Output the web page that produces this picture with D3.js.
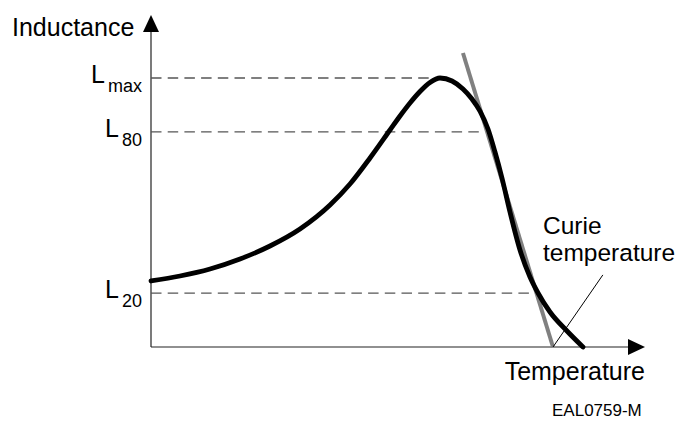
<!DOCTYPE html>
<html lang="en">
<head>
<meta charset="UTF-8">
<title>Inductance vs Temperature</title>
<script src="https://d3js.org/d3.v7.min.js"></script>
<style>
  body { margin: 0; background: #fff; }
  svg { display: block; font-family: "Liberation Sans", Arial, sans-serif; }
</style>
</head>
<body>
<svg id="chart" width="679" height="421"></svg>
<script>
// temperature (Curie point = 100) and inductance (% of Lmax)
var temps = [0, 7.21, 14.68, 22.14, 29.60, 37.06, 44.53, 49.50, 54.48, 59.45, 61.94, 64.43,
             66.92, 69.40, 71.89, 74.88, 77.61, 79.85, 81.84, 83.83, 85.57, 87.31, 89.30,
             91.79, 94.28, 96.27, 99.25, 103.48, 107.46];
var inductance = [24.54, 26.39, 28.99, 32.71, 37.55, 43.87, 52.79, 60.59, 70.26, 80.67, 85.87, 90.71,
                  94.98, 98.33, 100, 98.88, 95.91, 92.19, 87.73, 81.04, 72.49, 62.83, 50.19,
                  36.06, 26.02, 20.07, 13.01, 5.95, 0];

// reference levels
var levelNames = ["max", "80", "20"];
var levelValues = [100, 80, 20];
var levelEnds = [70.6, 83.1, 95.0];

// tangent line (gray) and Curie point
var tangentTemps = [77.6, 100];
var tangentValues = [109.3, 0];
var curieTemp = 100;
var curieLabelPoint = [112.4, 26.8];

var svg = d3.select("#chart");

var x = d3.scaleLinear().domain([0, 100]).range([151, 553]);
var y = d3.scaleLinear().domain([0, 100]).range([347, 78]);

var xMax = x.invert(645), yMax = y.invert(15);

// axes
svg.append("line")
  .attr("x1", x(0)).attr("y1", y(0))
  .attr("x2", x(0)).attr("y2", y(yMax) + 14)
  .attr("stroke", "#222").attr("stroke-width", 1.2);
svg.append("line")
  .attr("x1", x(0)).attr("y1", y(0))
  .attr("x2", x(xMax) - 14).attr("y2", y(0))
  .attr("stroke", "#222").attr("stroke-width", 1.2);

// arrow heads
var ax = x(0), ay = y(yMax);
svg.append("path")
  .attr("d", `M${ax},${ay}L${ax + 8},${ay + 17}L${ax - 8},${ay + 17}Z`)
  .attr("fill", "#000");
var bx = x(xMax), by = y(0);
svg.append("path")
  .attr("d", `M${bx},${by}L${bx - 17},${by - 8}L${bx - 17},${by + 8}Z`)
  .attr("fill", "#000");

// dashed levels
svg.selectAll("line.level")
  .data(levelValues)
  .enter()
  .append("line")
  .attr("class", "level")
  .attr("x1", x(0))
  .attr("x2", (d, i) => x(levelEnds[i]))
  .attr("y1", d => y(d))
  .attr("y2", d => y(d))
  .attr("stroke", "#555")
  .attr("stroke-width", 1.3)
  .attr("stroke-dasharray", "10.5,6.2");

// level labels
var lab = svg.selectAll("text.lvl")
  .data(levelValues)
  .enter()
  .append("text")
  .attr("class", "lvl")
  .attr("x", 142)
  .attr("y", d => y(d) + 5)
  .attr("text-anchor", "end")
  .style("font-size", "25px");
lab.append("tspan").text("L");
lab.append("tspan")
  .attr("dx", 3)
  .attr("dy", 9)
  .style("font-size", "18px")
  .text((d, i) => levelNames[i]);

// gray tangent
svg.append("line")
  .attr("x1", x(tangentTemps[0])).attr("y1", y(tangentValues[0]))
  .attr("x2", x(tangentTemps[1])).attr("y2", y(tangentValues[1]))
  .attr("stroke", "#808080")
  .attr("stroke-width", 4);

// inductance curve
var line = d3.line()
  .x(d => x(d[0]))
  .y(d => y(d[1]))
  .curve(d3.curveMonotoneX);
svg.append("path")
  .datum(temps.map((t, i) => [t, inductance[i]]))
  .attr("d", line)
  .attr("fill", "none")
  .attr("stroke", "#000")
  .attr("stroke-width", 4.8)
  .attr("stroke-linecap", "round");

// curie leader
svg.append("line")
  .attr("x1", x(curieTemp)).attr("y1", y(0))
  .attr("x2", x(curieLabelPoint[0])).attr("y2", y(curieLabelPoint[1]))
  .attr("stroke", "#000")
  .attr("stroke-width", 1);

// texts
svg.append("text")
  .attr("x", 12).attr("y", 36)
  .style("font-size", "25px")
  .text("Inductance");

svg.append("text")
  .attr("x", 645).attr("y", 380)
  .attr("text-anchor", "end")
  .style("font-size", "25px")
  .text("Temperature");

svg.append("text")
  .attr("x", 543).attr("y", 234)
  .style("font-size", "24.5px")
  .text("Curie");
svg.append("text")
  .attr("x", 543).attr("y", 261)
  .style("font-size", "24.5px")
  .text("temperature");

svg.append("text")
  .attr("x", 552).attr("y", 416)
  .style("font-size", "17px")
  .text("EAL0759-M");
</script>
</body>
</html>
